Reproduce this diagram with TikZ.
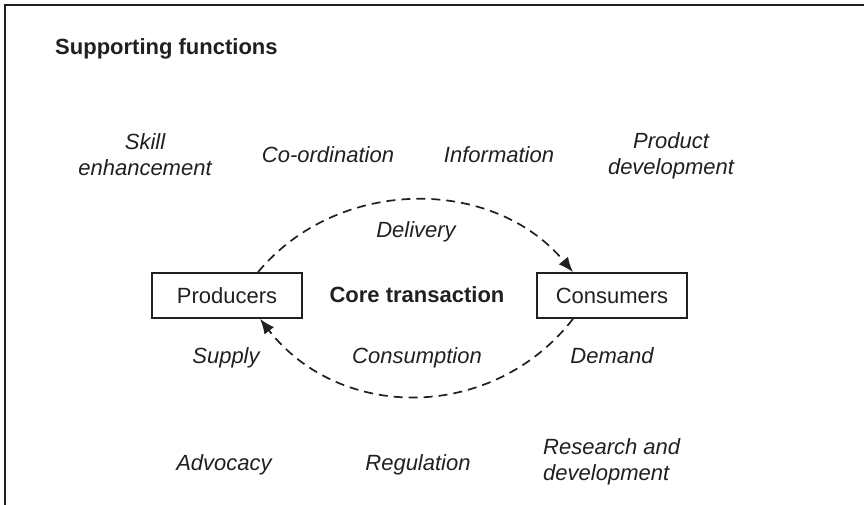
\documentclass[tikz,border=0pt]{standalone}
\usepackage{fontspec}
\setmainfont{Liberation Sans}
\usetikzlibrary{arrows.meta}
\definecolor{ink}{RGB}{35,31,32}
\begin{document}
\begin{tikzpicture}[x=1pt,y=-1pt,
  every node/.style={text=ink},
  lbl/.style={font=\fontsize{22}{26}\selectfont\itshape, anchor=base, inner sep=0pt},
  ttl/.style={font=\fontsize{22}{26}\selectfont\bfseries, anchor=base, inner sep=0pt},
  actor/.style={draw=ink, line width=1.7pt, rectangle, minimum width=150pt, minimum height=45pt, inner sep=0pt, font=\fontsize{22}{26}\selectfont},
  flow/.style={draw=ink, line width=1.7pt, dash pattern=on 9pt off 6pt, -{Latex[length=15pt,width=12pt]}}
]
\useasboundingbox (0,0) rectangle (864,505);
\draw[ink, line width=1.8pt] (5,505) -- (5,5) -- (864,5);

\node[ttl, anchor=base west] (sf) at (55,55) {Supporting functions};
\node[lbl, align=center] (skill) at (145,176) {Skill\\enhancement};
\node[lbl] (coord) at (328,163) {Co-ordination};
\node[lbl] (info) at (499,163) {Information};
\node[lbl, align=center] (pdev) at (671,175) {Product\\development};

\node[actor] (prod) at (227,295.5) {Producers};
\node[actor] (cons) at (612,295.5) {Consumers};
\node[ttl] (core) at (417,302) {Core transaction};
\node[lbl] (deliv) at (416,237) {Delivery};
\node[lbl] (supply) at (226,363) {Supply};
\node[lbl] (consum) at (417,363) {Consumption};
\node[lbl] (demand) at (612,363) {Demand};

\node[lbl] (advo) at (224,470) {Advocacy};
\node[lbl] (reg) at (418,470) {Regulation};
\node[lbl, align=left, anchor=base west] (rnd) at (543,480) {Research and\\development};

\draw[flow] ([xshift=31pt]prod.north) .. controls +(80,-96) and +(-80,-96) .. ([xshift=-39pt]cons.north);
\draw[flow] ([xshift=-39pt]cons.south) .. controls +(-80,103) and +(80,103) .. ([xshift=33pt]prod.south);
\end{tikzpicture}
\end{document}
